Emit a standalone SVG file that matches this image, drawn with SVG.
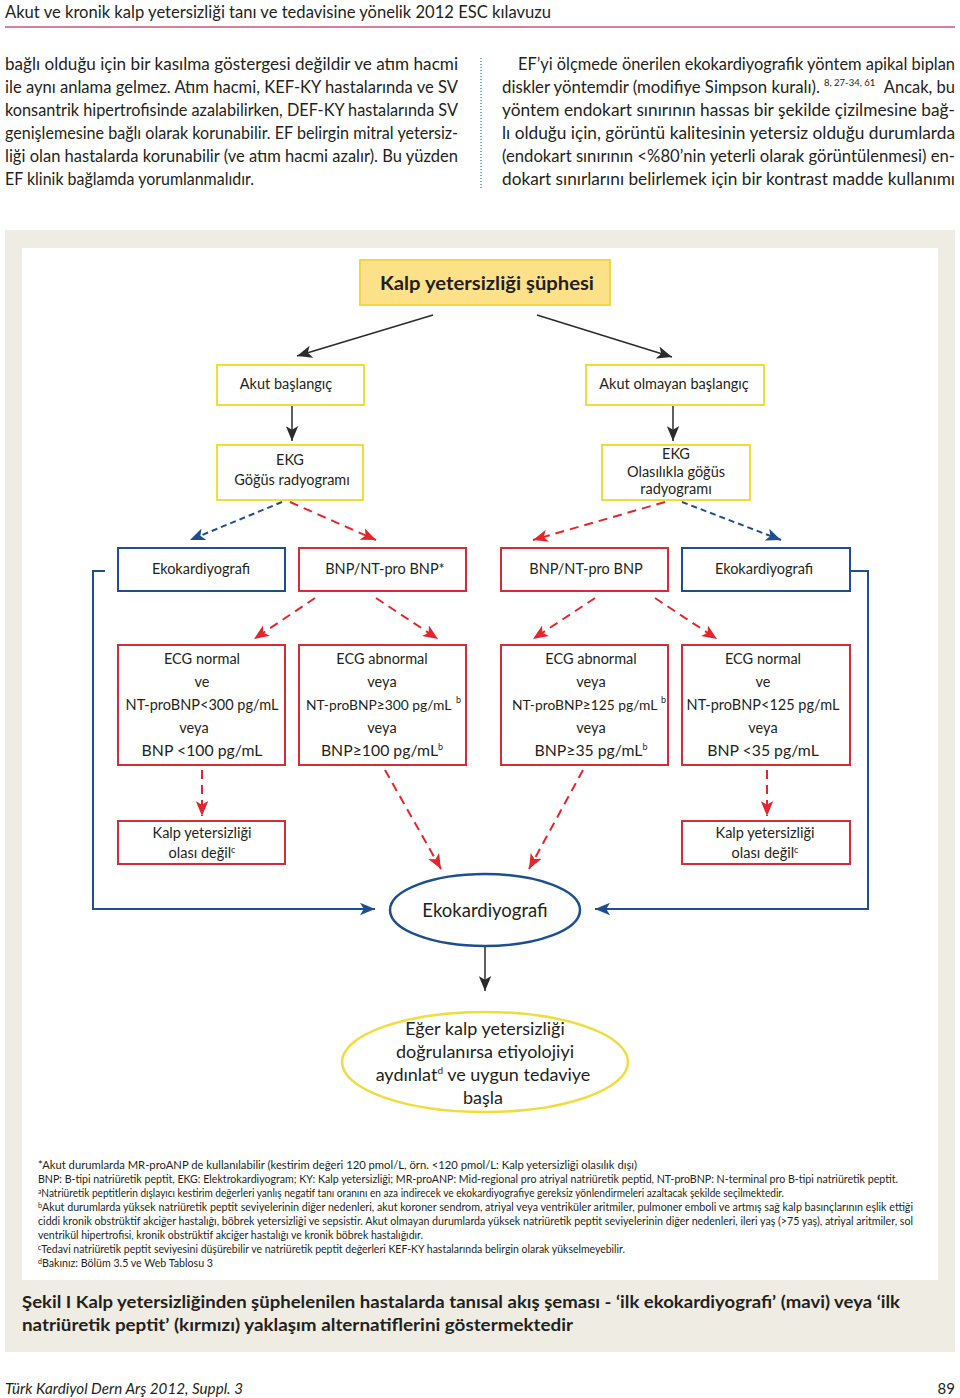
<svg xmlns="http://www.w3.org/2000/svg" width="960" height="1398" viewBox="0 0 960 1398">
<style>
text{font-family:Lato,"Liberation Sans",sans-serif;fill:#231f20}
.body{font-size:16.5px}
.fn{font-size:10.5px}
.lbl{font-size:14.5px;text-anchor:middle}
.big{font-size:15.8px;text-anchor:middle}
.ybox{fill:#fff;stroke:#f2dc3c;stroke-width:2}
.bbox{fill:#fff;stroke:#1d4f8f;stroke-width:2}
.rbox{fill:#fff;stroke:#d42d38;stroke-width:2}
.blk{stroke:#2b2b2b;stroke-width:1.5;fill:none}
.rd{stroke:#e3262d;stroke-width:2;stroke-dasharray:9,6;fill:none}
.bd{stroke:#1d4f8f;stroke-width:2;stroke-dasharray:6,4;fill:none}
.bl{stroke:#1d4f8f;stroke-width:2;fill:none}
.sup{font-size:9px}
</style>
<defs>
<marker id="ak" viewBox="0 0 12 10" refX="12" refY="5" markerWidth="15" markerHeight="13" markerUnits="userSpaceOnUse" orient="auto"><path d="M0,0 L12,5 L0,10 L3,5 z" fill="#2b2b2b"/></marker>
<marker id="ar" viewBox="0 0 12 10" refX="12" refY="5" markerWidth="15" markerHeight="13" markerUnits="userSpaceOnUse" orient="auto"><path d="M0,0 L12,5 L0,10 L3,5 z" fill="#e3262d"/></marker>
<marker id="ab" viewBox="0 0 12 10" refX="12" refY="5" markerWidth="15" markerHeight="13" markerUnits="userSpaceOnUse" orient="auto"><path d="M0,0 L12,5 L0,10 L3,5 z" fill="#1d4f8f"/></marker>
</defs>
<rect width="960" height="1398" fill="#fff"/>
<!-- header -->
<text x="5" y="18" font-size="17" textLength="546" lengthAdjust="spacingAndGlyphs" fill="#333">Akut ve kronik kalp yetersizliği tanı ve tedavisine yönelik 2012 ESC kılavuzu</text>
<line x1="5" y1="27" x2="955" y2="27" stroke="#c9567a" stroke-width="1.5"/>
<!-- body text -->
<g class="body">
<text x="5" y="70" class="body" textLength="453" lengthAdjust="spacingAndGlyphs">bağlı olduğu için bir kasılma göstergesi değildir ve atım hacmi</text>
<text x="5" y="93" class="body" textLength="453" lengthAdjust="spacingAndGlyphs">ile aynı anlama gelmez. Atım hacmi, KEF-KY hastalarında ve SV</text>
<text x="5" y="116" class="body" textLength="453" lengthAdjust="spacingAndGlyphs">konsantrik hipertrofisinde azalabilirken, DEF-KY hastalarında SV</text>
<text x="5" y="139" class="body" textLength="453" lengthAdjust="spacingAndGlyphs">genişlemesine bağlı olarak korunabilir. EF belirgin mitral yetersiz-</text>
<text x="5" y="162" class="body" textLength="453" lengthAdjust="spacingAndGlyphs">liği olan hastalarda korunabilir (ve atım hacmi azalır). Bu yüzden</text>
<text x="5" y="185" class="body" textLength="249" lengthAdjust="spacingAndGlyphs">EF klinik bağlamda yorumlanmalıdır.</text>
<line x1="481" y1="58" x2="481" y2="188" stroke="#4a9ab5" stroke-width="1.5" stroke-dasharray="1,2"/>
<text x="518" y="70" class="body" textLength="437" lengthAdjust="spacingAndGlyphs">EF’yi ölçmede önerilen ekokardiyografik yöntem apikal biplan</text>
<text x="502" y="93" class="body" textLength="318" lengthAdjust="spacingAndGlyphs">diskler yöntemdir (modifiye Simpson kuralı).</text>
<text x="824" y="86" font-size="9.5">8, 27-34, 61</text>
<text x="955" y="93" class="body" text-anchor="end">Ancak, bu</text>
<text x="502" y="116" class="body" textLength="453" lengthAdjust="spacingAndGlyphs">yöntem endokart sınırının hassas bir şekilde çizilmesine bağ-</text>
<text x="502" y="139" class="body" textLength="453" lengthAdjust="spacingAndGlyphs">lı olduğu için, görüntü kalitesinin yetersiz olduğu durumlarda</text>
<text x="502" y="162" class="body" textLength="453" lengthAdjust="spacingAndGlyphs">(endokart sınırının &lt;%80’nin yeterli olarak görüntülenmesi) en-</text>
<text x="502" y="185" class="body" textLength="453" lengthAdjust="spacingAndGlyphs">dokart sınırlarını belirlemek için bir kontrast madde kullanımı</text>
</g>
<!-- figure panel -->
<rect x="5" y="230" width="950" height="1122" fill="#efede3"/>
<rect x="22" y="248" width="916" height="1032" fill="#fff"/>
<!-- connectors -->
<g id="connectors">
<line class="blk" x1="433" y1="315" x2="297" y2="356" marker-end="url(#ak)"/>
<line class="blk" x1="537" y1="315" x2="672" y2="357" marker-end="url(#ak)"/>
<line class="blk" x1="292" y1="405" x2="292" y2="441" marker-end="url(#ak)"/>
<line class="blk" x1="673" y1="405" x2="673" y2="441" marker-end="url(#ak)"/>
<line class="bd" x1="282" y1="502" x2="190" y2="540" marker-end="url(#ab)"/>
<line class="rd" x1="290" y1="502" x2="376" y2="540" marker-end="url(#ar)"/>
<line class="rd" x1="665" y1="502" x2="533" y2="540" marker-end="url(#ar)"/>
<line class="bd" x1="682" y1="502" x2="781" y2="540" marker-end="url(#ab)"/>
<line class="rd" x1="315" y1="598" x2="254" y2="639" marker-end="url(#ar)"/>
<line class="rd" x1="376" y1="598" x2="438" y2="639" marker-end="url(#ar)"/>
<line class="rd" x1="595" y1="598" x2="533" y2="639" marker-end="url(#ar)"/>
<line class="rd" x1="655" y1="598" x2="717" y2="639" marker-end="url(#ar)"/>
<line class="rd" x1="202" y1="770" x2="202" y2="816" marker-end="url(#ar)"/>
<line class="rd" x1="385" y1="770" x2="441" y2="869" marker-end="url(#ar)"/>
<line class="rd" x1="583" y1="770" x2="529" y2="869" marker-end="url(#ar)"/>
<line class="rd" x1="767" y1="770" x2="767" y2="816" marker-end="url(#ar)"/>
<path class="bl" d="M105,571 H93 V909 H375" marker-end="url(#ab)"/>
<path class="bl" d="M850,571 H868 V909 H595" marker-end="url(#ab)"/>
<line class="blk" x1="485" y1="947" x2="485" y2="991" marker-end="url(#ak)"/>
</g>
<!-- nodes -->
<g id="n-suphe">
<rect x="360" y="260" width="250" height="45" fill="#fde189" stroke="#f2d64a" stroke-width="2"/>
<text x="487" y="290" font-size="19.5" font-weight="bold" text-anchor="middle" textLength="214" lengthAdjust="spacingAndGlyphs">Kalp yetersizliği şüphesi</text>
</g>
<g id="n-akut">
<rect class="ybox" x="217" y="365" width="147" height="40"/>
<text class="lbl" x="286" y="389">Akut başlangıç</text>
</g>
<g id="n-akutdegil">
<rect class="ybox" x="586" y="365" width="178" height="40"/>
<text class="lbl" x="674" y="389">Akut olmayan başlangıç</text>
</g>
<g id="n-ekg1">
<rect class="ybox" x="217" y="445" width="146" height="55"/>
<text class="lbl" x="290" y="465">EKG</text>
<text class="lbl" x="292" y="485">Göğüs radyogramı</text>
</g>
<g id="n-ekg2">
<rect class="ybox" x="602" y="445" width="148" height="55"/>
<text class="lbl" x="676" y="459">EKG</text>
<text class="lbl" x="676" y="477">Olasılıkla göğüs</text>
<text class="lbl" x="676" y="494">radyogramı</text>
</g>
<g id="n-eko1">
<rect class="bbox" x="118" y="548" width="167" height="43"/>
<text class="lbl" x="201" y="574">Ekokardiyografi</text>
</g>
<g id="n-bnp1">
<rect class="rbox" x="299" y="548" width="167" height="43"/>
<text class="lbl" x="385" y="574">BNP/NT-pro BNP*</text>
</g>
<g id="n-bnp2">
<rect class="rbox" x="501" y="548" width="167" height="43"/>
<text class="lbl" x="586" y="574">BNP/NT-pro BNP</text>
</g>
<g id="n-eko2">
<rect class="bbox" x="682" y="548" width="168" height="43"/>
<text class="lbl" x="764" y="574">Ekokardiyografi</text>
</g>
<g id="n-normal1">
<rect class="rbox" x="118" y="645" width="167" height="120"/>
<text class="lbl" x="202" y="664">ECG normal</text>
<text class="lbl" x="202" y="687">ve</text>
<text class="lbl" x="202" y="710">NT-proBNP&lt;300 pg/mL</text>
<text class="lbl" x="194" y="733">veya</text>
<text class="big" x="202" y="756">BNP &lt;100 pg/mL</text>
</g>
<g id="n-abn1">
<rect class="rbox" x="299" y="645" width="167" height="120"/>
<text class="lbl" x="382" y="664">ECG abnormal</text>
<text class="lbl" x="382" y="687">veya</text>
<text x="306" y="710" font-size="13.8">NT-proBNP≥300 pg/mL</text>
<text x="456" y="703" class="sup">b</text>
<text class="lbl" x="382" y="733">veya</text>
<text class="big" x="382" y="756">BNP≥100 pg/mL<tspan class="sup" dy="-6">b</tspan></text>
</g>
<g id="n-abn2">
<rect class="rbox" x="501" y="645" width="167" height="120"/>
<text class="lbl" x="591" y="664">ECG abnormal</text>
<text class="lbl" x="591" y="687">veya</text>
<text x="512" y="710" font-size="13.8">NT-proBNP≥125 pg/mL</text>
<text x="661" y="703" class="sup">b</text>
<text class="lbl" x="591" y="733">veya</text>
<text class="big" x="591" y="756">BNP≥35 pg/mL<tspan class="sup" dy="-6">b</tspan></text>
</g>
<g id="n-normal2">
<rect class="rbox" x="682" y="645" width="168" height="120"/>
<text class="lbl" x="763" y="664">ECG normal</text>
<text class="lbl" x="763" y="687">ve</text>
<text class="lbl" x="763" y="710">NT-proBNP&lt;125 pg/mL</text>
<text class="lbl" x="763" y="733">veya</text>
<text class="big" x="763" y="756">BNP &lt;35 pg/mL</text>
</g>
<g id="n-degil1">
<rect class="rbox" x="118" y="821" width="167" height="43"/>
<text class="lbl" x="202" y="838">Kalp yetersizliği</text>
<text class="lbl" x="202" y="858">olası değil<tspan class="sup" dy="-5">c</tspan></text>
</g>
<g id="n-degil2">
<rect class="rbox" x="682" y="821" width="168" height="43"/>
<text class="lbl" x="765" y="838">Kalp yetersizliği</text>
<text class="lbl" x="765" y="858">olası değil<tspan class="sup" dy="-5">c</tspan></text>
</g>
<g id="n-eko-merkez">
<ellipse cx="485" cy="910" rx="95" ry="36" fill="#fff" stroke="#1d4f8f" stroke-width="2.5"/>
<text x="485" y="917" font-size="18.5" text-anchor="middle">Ekokardiyografi</text>
</g>
<g id="n-sonuc">
<ellipse cx="485" cy="1062" rx="143" ry="50" fill="#fff" stroke="#f0dc3c" stroke-width="2.5"/>
<text x="485" y="1035" font-size="18" text-anchor="middle">Eğer kalp yetersizliği</text>
<text x="485" y="1058" font-size="18" text-anchor="middle">doğrulanırsa etiyolojiyi</text>
<text x="483" y="1081" font-size="18" text-anchor="middle">aydınlat<tspan font-size="10" dy="-7">d</tspan><tspan dy="7"> ve uygun tedaviye</tspan></text>
<text x="483" y="1104" font-size="18" text-anchor="middle">başla</text>
</g>
<!-- footnotes -->
<g id="footnotes" class="fn">
<text class="fn" x="38" y="1169" textLength="599" lengthAdjust="spacingAndGlyphs">*Akut durumlarda MR-proANP de kullanılabilir (kestirim değeri 120 pmol/L, örn. &lt;120 pmol/L: Kalp yetersizliği olasılık dışı)</text>
<text class="fn" x="38" y="1183" textLength="860" lengthAdjust="spacingAndGlyphs">BNP: B-tipi natriüretik peptit, EKG: Elektrokardiyogram; KY: Kalp yetersizliği; MR-proANP: Mid-regional pro atriyal natriüretik peptid, NT-proBNP: N-terminal pro B-tipi natriüretik peptit.</text>
<text class="fn" x="38" y="1197" textLength="746" lengthAdjust="spacingAndGlyphs"><tspan font-size="7" dy="-3">a</tspan><tspan dy="3">Natriüretik peptitlerin dışlayıcı kestirim değerleri yanlış negatif tanı oranını en aza indirecek ve ekokardiyografiye gereksiz yönlendirmeleri azaltacak şekilde seçilmektedir.</tspan></text>
<text class="fn" x="38" y="1211" textLength="875" lengthAdjust="spacingAndGlyphs"><tspan font-size="7" dy="-3">b</tspan><tspan dy="3">Akut durumlarda yüksek natriüretik peptit seviyelerinin diğer nedenleri, akut koroner sendrom, atriyal veya ventriküler aritmiler, pulmoner emboli ve artmış sağ kalp basınçlarının eşlik ettiği</tspan></text>
<text class="fn" x="38" y="1225" textLength="875" lengthAdjust="spacingAndGlyphs">ciddi kronik obstrüktif akciğer hastalığı, böbrek yetersizliği ve sepsistir. Akut olmayan durumlarda yüksek natriüretik peptit seviyelerinin diğer nedenleri, ileri yaş (&gt;75 yaş), atriyal aritmiler, sol</text>
<text class="fn" x="38" y="1239" textLength="385" lengthAdjust="spacingAndGlyphs">ventrikül hipertrofisi, kronik obstrüktif akciğer hastalığı ve kronik böbrek hastalığıdır.</text>
<text class="fn" x="38" y="1253" textLength="587" lengthAdjust="spacingAndGlyphs"><tspan font-size="7" dy="-3">c</tspan><tspan dy="3">Tedavi natriüretik peptit seviyesini düşürebilir ve natriüretik peptit değerleri KEF-KY hastalarında belirgin olarak yükselmeyebilir.</tspan></text>
<text class="fn" x="38" y="1267" textLength="175" lengthAdjust="spacingAndGlyphs"><tspan font-size="7" dy="-3">d</tspan><tspan dy="3">Bakınız: Bölüm 3.5 ve Web Tablosu 3</tspan></text>
</g>
<!-- caption -->
<text x="22" y="1308" font-size="17" font-weight="bold" textLength="878" lengthAdjust="spacingAndGlyphs">Şekil I Kalp yetersizliğinden şüphelenilen hastalarda tanısal akış şeması - ‘ilk ekokardiyografi’ (mavi) veya ‘ilk</text>
<text x="22" y="1331" font-size="17" font-weight="bold" textLength="551" lengthAdjust="spacingAndGlyphs">natriüretik peptit’ (kırmızı) yaklaşım alternatiflerini göstermektedir</text>
<!-- footer -->
<text x="5" y="1394" font-size="15" font-style="italic" textLength="238" lengthAdjust="spacingAndGlyphs" fill="#333">Türk Kardiyol Dern Arş 2012, Suppl. 3</text>
<text x="955" y="1394" font-size="15" text-anchor="end" fill="#333">89</text>
</svg>
